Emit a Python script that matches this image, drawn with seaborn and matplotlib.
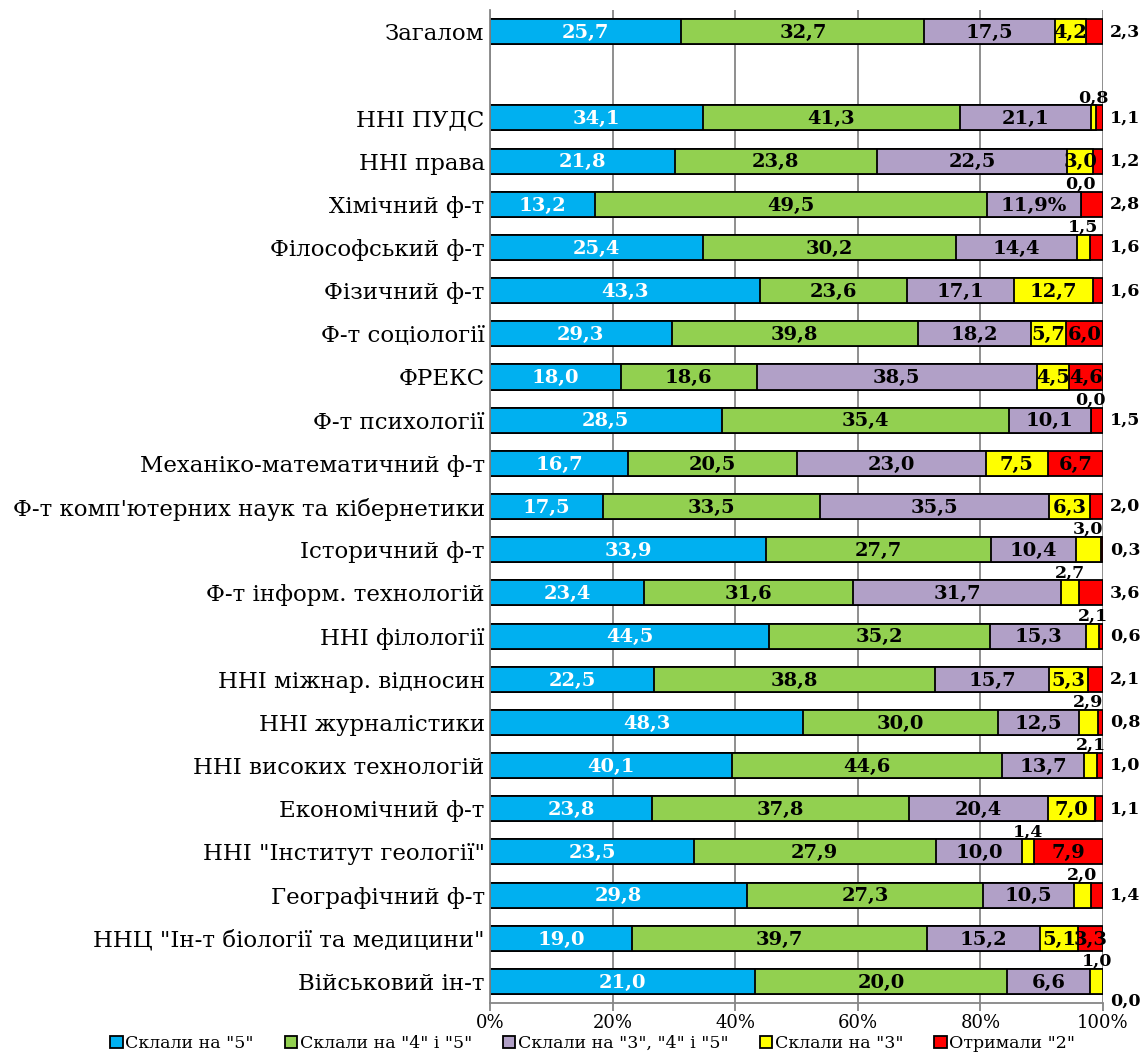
import matplotlib.pyplot as plt
import matplotlib.patches as mpatches
import seaborn as sns
import pandas as pd
import numpy as np

# Categories (top to bottom), the blank slot after "Загалом" is added later
rows = ["Загалом", "ННІ ПУДС", "ННІ права", "Хімічний ф-т", "Філософський ф-т",
        "Фізичний ф-т", "Ф-т соціології", "ФРЕКС", "Ф-т психології",
        "Механіко-математичний ф-т", "Ф-т комп'ютерних наук та кібернетики",
        "Історичний ф-т", "Ф-т інформ. технологій", "ННІ філології",
        "ННІ міжнар. відносин", "ННІ журналістики", "ННІ високих технологій",
        "Економічний ф-т", "ННІ \"Інститут геології\"", "Географічний ф-т",
        "ННЦ \"Ін-т біології та медицини\"", "Військовий ін-т"]

grade5 = [25.7, 34.1, 21.8, 13.2, 25.4, 43.3, 29.3, 18.0, 28.5, 16.7, 17.5,
          33.9, 23.4, 44.5, 22.5, 48.3, 40.1, 23.8, 23.5, 29.8, 19.0, 21.0]
grade45 = [32.7, 41.3, 23.8, 49.5, 30.2, 23.6, 39.8, 18.6, 35.4, 20.5, 33.5,
           27.7, 31.6, 35.2, 38.8, 30.0, 44.6, 37.8, 27.9, 27.3, 39.7, 20.0]
grade345 = [17.5, 21.1, 22.5, 11.9, 14.4, 17.1, 18.2, 38.5, 10.1, 23.0, 35.5,
            10.4, 31.7, 15.3, 15.7, 12.5, 13.7, 20.4, 10.0, 10.5, 15.2, 6.6]
grade3 = [4.2, 0.8, 3.0, 0.0, 1.5, 12.7, 5.7, 4.5, 0.0, 7.5, 6.3,
          3.0, 2.7, 2.1, 5.3, 2.9, 2.1, 7.0, 1.4, 2.0, 5.1, 1.0]
grade2 = [2.3, 1.1, 1.2, 2.8, 1.6, 1.6, 6.0, 4.6, 1.5, 6.7, 2.0,
          0.3, 3.6, 0.6, 2.1, 0.8, 1.0, 1.1, 7.9, 1.4, 3.3, 0.0]

series_names = ['Склали на "5"', 'Склали на "4" і "5"', 'Склали на "3", "4" і "5"',
                'Склали на "3"', 'Отримали "2"']
colors = ["#00B0F0", "#92D050", "#B1A0C7", "#FFFF00", "#FF0000"]

# label placement (as in the original chart)
red_inside = {"Ф-т соціології", "ФРЕКС", "Механіко-математичний ф-т",
              "ННІ \"Інститут геології\"", "ННЦ \"Ін-т біології та медицини\""}
yellow_above = {"ННІ ПУДС", "Хімічний ф-т", "Філософський ф-т", "Ф-т психології",
                "Історичний ф-т", "Ф-т інформ. технологій", "ННІ філології",
                "ННІ журналістики", "ННІ високих технологій",
                "ННІ \"Інститут геології\"", "Географічний ф-т", "Військовий ін-т"}
label_override = {("Хімічний ф-т", 2): "11,9%"}

vals = np.array([grade5, grade45, grade345, grade3, grade2]).T
pct = vals / vals.sum(axis=1, keepdims=True) * 100
cum = pct.cumsum(axis=1)
df = pd.DataFrame(cum, columns=series_names)
df["row"] = rows

order = [rows[0], " "] + rows[1:]

sns.set_theme(style="white")
plt.rcParams["font.family"] = ["DejaVu Serif"]
plt.rcParams["text.color"] = "black"

fig = plt.figure(figsize=(11.4, 10.55), dpi=100)
ax = fig.add_axes([0.43, 0.0493, 0.5375, 0.9412])

bw = 0.58
# draw cumulative bars from longest to shortest so they stack
for i in reversed(range(5)):
    sns.barplot(data=df, x=series_names[i], y="row", order=order, orient="h",
                color=colors[i], saturation=1, edgecolor="black", linewidth=1.3,
                width=bw, errorbar=None, ax=ax)

for r, name in enumerate(rows):
    y = order.index(name)
    for i in range(5):
        v = vals[r, i]
        txt = label_override.get((name, i), f"{v:.1f}".replace(".", ","))
        left = cum[r, i] - pct[r, i]
        cx = left + pct[r, i] / 2
        tcol = "white" if i == 0 else "black"
        if i == 4 and name not in red_inside:
            dy = 0.45 if name == "Військовий ін-т" else 0
            ax.text(101.1, y + dy, txt, ha="left", va="center", fontsize=12.5,
                    fontweight="bold", color="black", clip_on=False)
        elif i == 3 and name in yellow_above:
            ax.text(cx, y - bw / 2 + 0.02, txt, ha="center", va="bottom",
                    fontsize=12.5, fontweight="bold", color="black", clip_on=False)
        else:
            ax.text(cx, y + 0.03, txt, ha="center", va="center", fontsize=14,
                    fontweight="bold", color=tcol)

ax.set_xlim(0, 100)
ax.set_ylim(len(order) - 0.5, -0.5)
ax.set_xticks(range(0, 101, 20))
ax.set_xticklabels([f"{t}%" for t in range(0, 101, 20)])
ax.tick_params(axis="x", labelsize=13, labelcolor="black", length=6, width=1.3,
               color="#868686", pad=2, bottom=True)
ax.tick_params(axis="y", labelsize=16.5, labelcolor="black", length=0, pad=4)
ax.xaxis.grid(True, color="#868686", linewidth=1.3)
ax.set_axisbelow(True)
sns.despine(ax=ax, top=True, right=True)
for s in ["left", "bottom"]:
    ax.spines[s].set_color("#868686")
    ax.spines[s].set_linewidth(1.3)
ax.set_xlabel("")
ax.set_ylabel("")

handles = [mpatches.Patch(facecolor=c, edgecolor="black", linewidth=1.3, label=n)
           for c, n in zip(colors, series_names)]
fig.legend(handles=handles, loc="center", bbox_to_anchor=(0.52, 0.011), ncol=5,
           frameon=False, fontsize=12.5, handlelength=0.7, handleheight=0.7,
           handletextpad=0.15, columnspacing=1.8, borderpad=0)

fig.savefig("out.png", dpi=100)
